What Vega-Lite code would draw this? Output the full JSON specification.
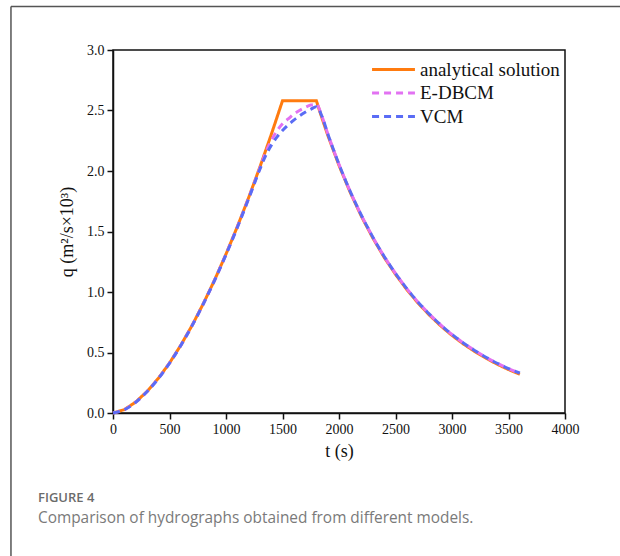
{
  "$schema": "https://vega.github.io/schema/vega-lite/v6.json",
  "width": 452,
  "height": 363,
  "autosize": {"type": "none"},
  "padding": {"left": 113, "top": 50, "right": 55, "bottom": 143},
  "background": "white",
  "title": {
    "text": "FIGURE 4",
    "subtitle": "Comparison of hydrographs obtained from different models.",
    "orient": "bottom",
    "anchor": "start",
    "frame": "group",
    "dx": -75,
    "offset": -115,
    "font": "Open Sans",
    "fontSize": 13,
    "fontWeight": 600,
    "color": "#6b6b6b",
    "subtitleFont": "Open Sans",
    "subtitleFontSize": 15.4,
    "subtitleColor": "#7a7a7a",
    "subtitlePadding": 6
  },
  "config": {
    "view": {"stroke": "#111", "strokeWidth": 1.5},
    "axis": {
      "labelFont": "Liberation Serif",
      "labelFontSize": 14,
      "labelColor": "#111",
      "titleFont": "Liberation Serif",
      "titleFontSize": 18,
      "titleFontWeight": "normal",
      "titleColor": "#111",
      "domainColor": "#111",
      "domainWidth": 1.5,
      "tickColor": "#111",
      "tickWidth": 1.5,
      "grid": false
    }
  },
  "datasets": {
    "curves": [
      {"t": 0, "q": 0, "s": "analytical solution"},
      {"t": 100, "q": 0.028, "s": "analytical solution"},
      {"t": 200, "q": 0.090, "s": "analytical solution"},
      {"t": 300, "q": 0.177, "s": "analytical solution"},
      {"t": 400, "q": 0.285, "s": "analytical solution"},
      {"t": 500, "q": 0.413, "s": "analytical solution"},
      {"t": 600, "q": 0.560, "s": "analytical solution"},
      {"t": 700, "q": 0.724, "s": "analytical solution"},
      {"t": 800, "q": 0.905, "s": "analytical solution"},
      {"t": 900, "q": 1.101, "s": "analytical solution"},
      {"t": 1000, "q": 1.313, "s": "analytical solution"},
      {"t": 1100, "q": 1.539, "s": "analytical solution"},
      {"t": 1200, "q": 1.779, "s": "analytical solution"},
      {"t": 1300, "q": 2.033, "s": "analytical solution"},
      {"t": 1400, "q": 2.300, "s": "analytical solution"},
      {"t": 1500, "q": 2.580, "s": "analytical solution"},
      {"t": 1800, "q": 2.580, "s": "analytical solution"},
      {"t": 1850, "q": 2.435, "s": "analytical solution"},
      {"t": 1900, "q": 2.297, "s": "analytical solution"},
      {"t": 2000, "q": 2.046, "s": "analytical solution"},
      {"t": 2100, "q": 1.822, "s": "analytical solution"},
      {"t": 2200, "q": 1.622, "s": "analytical solution"},
      {"t": 2300, "q": 1.445, "s": "analytical solution"},
      {"t": 2400, "q": 1.286, "s": "analytical solution"},
      {"t": 2500, "q": 1.146, "s": "analytical solution"},
      {"t": 2600, "q": 1.020, "s": "analytical solution"},
      {"t": 2700, "q": 0.908, "s": "analytical solution"},
      {"t": 2800, "q": 0.809, "s": "analytical solution"},
      {"t": 2900, "q": 0.720, "s": "analytical solution"},
      {"t": 3000, "q": 0.641, "s": "analytical solution"},
      {"t": 3100, "q": 0.571, "s": "analytical solution"},
      {"t": 3200, "q": 0.509, "s": "analytical solution"},
      {"t": 3300, "q": 0.453, "s": "analytical solution"},
      {"t": 3400, "q": 0.403, "s": "analytical solution"},
      {"t": 3500, "q": 0.359, "s": "analytical solution"},
      {"t": 3600, "q": 0.320, "s": "analytical solution"},

      {"t": 0, "q": 0, "s": "E-DBCM"},
      {"t": 100, "q": 0.028, "s": "E-DBCM"},
      {"t": 200, "q": 0.089, "s": "E-DBCM"},
      {"t": 300, "q": 0.176, "s": "E-DBCM"},
      {"t": 400, "q": 0.284, "s": "E-DBCM"},
      {"t": 500, "q": 0.412, "s": "E-DBCM"},
      {"t": 600, "q": 0.559, "s": "E-DBCM"},
      {"t": 700, "q": 0.723, "s": "E-DBCM"},
      {"t": 800, "q": 0.904, "s": "E-DBCM"},
      {"t": 900, "q": 1.100, "s": "E-DBCM"},
      {"t": 1000, "q": 1.311, "s": "E-DBCM"},
      {"t": 1100, "q": 1.536, "s": "E-DBCM"},
      {"t": 1200, "q": 1.775, "s": "E-DBCM"},
      {"t": 1300, "q": 2.025, "s": "E-DBCM"},
      {"t": 1350, "q": 2.150, "s": "E-DBCM"},
      {"t": 1400, "q": 2.250, "s": "E-DBCM"},
      {"t": 1450, "q": 2.330, "s": "E-DBCM"},
      {"t": 1500, "q": 2.390, "s": "E-DBCM"},
      {"t": 1550, "q": 2.430, "s": "E-DBCM"},
      {"t": 1600, "q": 2.470, "s": "E-DBCM"},
      {"t": 1650, "q": 2.500, "s": "E-DBCM"},
      {"t": 1700, "q": 2.525, "s": "E-DBCM"},
      {"t": 1750, "q": 2.545, "s": "E-DBCM"},
      {"t": 1800, "q": 2.550, "s": "E-DBCM"},
      {"t": 1850, "q": 2.450, "s": "E-DBCM"},
      {"t": 1900, "q": 2.310, "s": "E-DBCM"},
      {"t": 2000, "q": 2.055, "s": "E-DBCM"},
      {"t": 2100, "q": 1.830, "s": "E-DBCM"},
      {"t": 2200, "q": 1.630, "s": "E-DBCM"},
      {"t": 2300, "q": 1.453, "s": "E-DBCM"},
      {"t": 2400, "q": 1.294, "s": "E-DBCM"},
      {"t": 2500, "q": 1.154, "s": "E-DBCM"},
      {"t": 2600, "q": 1.028, "s": "E-DBCM"},
      {"t": 2700, "q": 0.916, "s": "E-DBCM"},
      {"t": 2800, "q": 0.817, "s": "E-DBCM"},
      {"t": 2900, "q": 0.728, "s": "E-DBCM"},
      {"t": 3000, "q": 0.649, "s": "E-DBCM"},
      {"t": 3100, "q": 0.579, "s": "E-DBCM"},
      {"t": 3200, "q": 0.517, "s": "E-DBCM"},
      {"t": 3300, "q": 0.461, "s": "E-DBCM"},
      {"t": 3400, "q": 0.411, "s": "E-DBCM"},
      {"t": 3500, "q": 0.367, "s": "E-DBCM"},
      {"t": 3600, "q": 0.328, "s": "E-DBCM"},

      {"t": 0, "q": 0, "s": "VCM"},
      {"t": 100, "q": 0.027, "s": "VCM"},
      {"t": 200, "q": 0.088, "s": "VCM"},
      {"t": 300, "q": 0.175, "s": "VCM"},
      {"t": 400, "q": 0.283, "s": "VCM"},
      {"t": 500, "q": 0.411, "s": "VCM"},
      {"t": 600, "q": 0.558, "s": "VCM"},
      {"t": 700, "q": 0.722, "s": "VCM"},
      {"t": 800, "q": 0.903, "s": "VCM"},
      {"t": 900, "q": 1.098, "s": "VCM"},
      {"t": 1000, "q": 1.309, "s": "VCM"},
      {"t": 1100, "q": 1.533, "s": "VCM"},
      {"t": 1200, "q": 1.770, "s": "VCM"},
      {"t": 1300, "q": 2.015, "s": "VCM"},
      {"t": 1350, "q": 2.125, "s": "VCM"},
      {"t": 1400, "q": 2.210, "s": "VCM"},
      {"t": 1450, "q": 2.280, "s": "VCM"},
      {"t": 1500, "q": 2.335, "s": "VCM"},
      {"t": 1550, "q": 2.380, "s": "VCM"},
      {"t": 1600, "q": 2.420, "s": "VCM"},
      {"t": 1650, "q": 2.455, "s": "VCM"},
      {"t": 1700, "q": 2.485, "s": "VCM"},
      {"t": 1750, "q": 2.510, "s": "VCM"},
      {"t": 1800, "q": 2.530, "s": "VCM"},
      {"t": 1850, "q": 2.450, "s": "VCM"},
      {"t": 1900, "q": 2.310, "s": "VCM"},
      {"t": 2000, "q": 2.055, "s": "VCM"},
      {"t": 2100, "q": 1.830, "s": "VCM"},
      {"t": 2200, "q": 1.630, "s": "VCM"},
      {"t": 2300, "q": 1.453, "s": "VCM"},
      {"t": 2400, "q": 1.294, "s": "VCM"},
      {"t": 2500, "q": 1.154, "s": "VCM"},
      {"t": 2600, "q": 1.028, "s": "VCM"},
      {"t": 2700, "q": 0.916, "s": "VCM"},
      {"t": 2800, "q": 0.817, "s": "VCM"},
      {"t": 2900, "q": 0.728, "s": "VCM"},
      {"t": 3000, "q": 0.649, "s": "VCM"},
      {"t": 3100, "q": 0.579, "s": "VCM"},
      {"t": 3200, "q": 0.517, "s": "VCM"},
      {"t": 3300, "q": 0.461, "s": "VCM"},
      {"t": 3400, "q": 0.411, "s": "VCM"},
      {"t": 3500, "q": 0.367, "s": "VCM"},
      {"t": 3600, "q": 0.330, "s": "VCM"}
    ],
    "frame": [
      {"t0": -903, "t1": 5200, "q0": 3.36, "q1": -1.6}
    ]
  },
  "layer": [
    {
      "data": {"name": "curves"},
      "encoding": {
        "x": {
          "field": "t",
          "type": "quantitative",
          "scale": {"domain": [0, 4000], "nice": false, "zero": false},
          "axis": {
            "title": "t (s)",
            "values": [0, 250, 500, 750, 1000, 1250, 1500, 1750, 2000, 2250, 2500, 2750, 3000, 3250, 3500, 3750, 4000],
            "labelExpr": "datum.value % 500 === 0 ? format(datum.value, 'd') : ''",
            "tickSize": {"condition": {"test": "datum.value % 500 !== 0", "value": 3}, "value": 6},
            "labelPadding": 3,
            "titlePadding": 6,
            "labelFlush": false
          }
        },
        "y": {
          "field": "q",
          "type": "quantitative",
          "scale": {"domain": [0, 3], "nice": false},
          "axis": {
            "title": "q (m²/s×10³)",
            "values": [0, 0.25, 0.5, 0.75, 1, 1.25, 1.5, 1.75, 2, 2.25, 2.5, 2.75, 3],
            "labelExpr": "round(datum.value * 100) % 50 === 0 ? format(datum.value, '.1f') : ''",
            "tickSize": {"condition": {"test": "round(datum.value * 100) % 50 !== 0", "value": 3}, "value": 6},
            "labelPadding": 3,
            "titlePadding": 10,
            "labelFlush": false
          }
        },
        "color": {
          "field": "s",
          "type": "nominal",
          "scale": {
            "domain": ["analytical solution", "E-DBCM", "VCM"],
            "range": ["#ff7b0f", "#e272f2", "#5a6cf5"]
          },
          "legend": {
            "title": null,
            "orient": "none",
            "legendX": 268,
            "legendY": 7,
            "symbolType": "M-2,0H2",
            "symbolSize": 460,
            "symbolStrokeWidth": 3,
            "symbolFillColor": "transparent",
            "labelFont": "Liberation Serif",
            "labelFontSize": 19,
            "labelColor": "#111",
            "rowPadding": 0.5,
            "labelOffset": 14,
            "padding": 0
          }
        },
        "strokeDash": {
          "field": "s",
          "type": "nominal",
          "scale": {
            "domain": ["analytical solution", "E-DBCM", "VCM"],
            "range": [[1, 0], [7, 5], [7, 5]]
          },
          "legend": null
        }
      },
      "layer": [
        {
          "transform": [{"filter": "datum.s === 'analytical solution'"}],
          "mark": {"type": "line", "strokeWidth": 3, "interpolate": "linear"}
        },
        {
          "transform": [{"filter": "datum.s === 'E-DBCM'"}],
          "mark": {"type": "line", "strokeWidth": 3, "interpolate": "monotone"}
        },
        {
          "transform": [{"filter": "datum.s === 'VCM'"}],
          "mark": {"type": "line", "strokeWidth": 3, "interpolate": "monotone"}
        }
      ]
    },
    {
      "data": {"name": "frame"},
      "mark": {"type": "rule", "stroke": "#555555", "strokeWidth": 1.5, "clip": false},
      "encoding": {
        "x": {"field": "t0", "type": "quantitative", "title": "t (s)"},
        "x2": {"field": "t1"},
        "y": {"field": "q0", "type": "quantitative", "title": "q (m²/s×10³)"}
      }
    },
    {
      "data": {"name": "frame"},
      "mark": {"type": "rule", "stroke": "#555555", "strokeWidth": 1.5, "clip": false},
      "encoding": {
        "x": {"field": "t0", "type": "quantitative", "title": "t (s)"},
        "y": {"field": "q0", "type": "quantitative", "title": "q (m²/s×10³)"},
        "y2": {"field": "q1"}
      }
    }
  ]
}
